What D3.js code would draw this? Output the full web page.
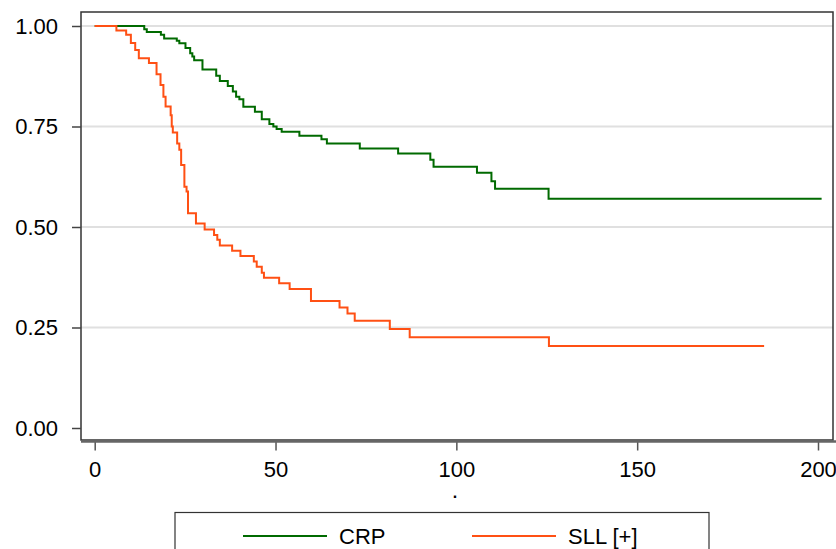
<!DOCTYPE html>
<html>
<head>
<meta charset="utf-8">
<script src="https://cdn.jsdelivr.net/npm/d3@7"></script>
<style>
  html, body { margin: 0; padding: 0; background: #fff; }
  svg { display: block; font-family: "Liberation Sans", Arial, sans-serif; }
</style>
</head>
<body>
<svg id="chart" width="836" height="549"></svg>
<script>
// ---- data ----
const crpTime = [0, 13.7, 14.4, 18.3, 19.2, 22.7, 23.4, 25.1, 26.4, 27.0, 27.5, 29.8, 33.6, 34.6, 36.8, 38.2, 39.1, 40.0, 41.1, 44.3, 46.2, 48.3, 49.4, 50.3, 51.7, 56.6, 62.7, 64.2, 73.3, 83.9, 92.8, 93.7, 105.7, 109.7, 110.7, 125.5, 201.0];
const crpSurv = [1.0, 0.992, 0.985, 0.978, 0.969, 0.963, 0.957, 0.945, 0.932, 0.924, 0.915, 0.892, 0.876, 0.863, 0.851, 0.837, 0.824, 0.818, 0.799, 0.787, 0.768, 0.756, 0.750, 0.744, 0.737, 0.727, 0.718, 0.708, 0.695, 0.683, 0.667, 0.650, 0.635, 0.614, 0.595, 0.570, 0.570];

const sllTime = [0, 6.0, 8.7, 10.0, 11.2, 12.2, 15.0, 17.1, 18.2, 19.0, 19.6, 21.0, 21.3, 21.6, 22.8, 23.4, 23.9, 24.8, 25.4, 25.8, 28.0, 30.4, 33.0, 33.9, 34.6, 38.0, 40.3, 44.0, 44.8, 46.2, 46.8, 51.0, 53.9, 59.8, 67.7, 69.9, 71.9, 81.6, 87.1, 125.6, 185.1];
const sllSurv = [1.0, 0.989, 0.978, 0.958, 0.940, 0.920, 0.908, 0.880, 0.853, 0.824, 0.800, 0.778, 0.750, 0.735, 0.708, 0.692, 0.654, 0.600, 0.588, 0.534, 0.509, 0.494, 0.480, 0.468, 0.454, 0.441, 0.428, 0.414, 0.401, 0.386, 0.374, 0.360, 0.346, 0.316, 0.300, 0.285, 0.267, 0.246, 0.226, 0.204, 0.204];

const yTicks = [0, 0.25, 0.5, 0.75, 1.0];
const xTicks = [0, 50, 100, 150, 200];
const seriesNames = ["CRP", "SLL [+]"];
const seriesColors = ["#006a00", "#ff5014"];
const xTitle = ".";

// ---- build ----
const svg = d3.select("#chart");
const frame = { left: 81, top: 12, right: 833, bottom: 440 };

const x = d3.scaleLinear().domain([0, 200]).range([94.7, 818]);
const y = d3.scaleLinear().domain([0, 1]).range([428, 26]);

// gridlines
svg.append("g").selectAll("line")
  .data(yTicks.filter(d => d > 0))
  .join("line")
  .attr("x1", frame.left).attr("x2", frame.right)
  .attr("y1", d => y(d)).attr("y2", d => y(d))
  .attr("stroke", "#e0e0e0").attr("stroke-width", 2);

// frame
svg.append("rect")
  .attr("x", frame.left).attr("y", frame.top)
  .attr("width", frame.right - frame.left).attr("height", frame.bottom - frame.top)
  .attr("fill", "none").attr("stroke", "#333").attr("stroke-width", 1.5);

// series
const series = [
  { name: seriesNames[0], color: seriesColors[0], pts: crpTime.map((t, i) => [t, crpSurv[i]]) },
  { name: seriesNames[1], color: seriesColors[1], pts: sllTime.map((t, i) => [t, sllSurv[i]]) }
];
const line = d3.line().x(d => x(d[0])).y(d => y(d[1])).curve(d3.curveStepAfter);
svg.append("g").selectAll("path")
  .data(series)
  .join("path")
  .attr("d", d => line(d.pts))
  .attr("fill", "none")
  .attr("stroke", d => d.color)
  .attr("stroke-width", 2);

// y axis
const yAxis = svg.append("g")
  .attr("transform", `translate(${frame.left},0)`)
  .call(d3.axisLeft(y).tickValues(yTicks).tickFormat(d3.format(".2f")).tickSize(9).tickPadding(14));
yAxis.select(".domain").remove();
yAxis.selectAll(".tick line").attr("stroke", "#444").attr("stroke-width", 1.5);
yAxis.selectAll(".tick text").attr("font-size", 22).attr("fill", "#000")
  .attr("font-family", "Liberation Sans, Arial, sans-serif");

// x axis
const xAxis = svg.append("g")
  .attr("transform", `translate(0,441.5)`)
  .call(d3.axisBottom(x).tickValues(xTicks).tickFormat(d3.format("d")).tickSize(9).tickPadding(11));
xAxis.select(".domain").remove();
xAxis.selectAll(".tick line").attr("stroke", "#555").attr("stroke-width", 1.5);
xAxis.selectAll(".tick text").attr("font-size", 22).attr("fill", "#000")
  .attr("font-family", "Liberation Sans, Arial, sans-serif");
svg.append("line")
  .attr("x1", frame.left).attr("x2", 836)
  .attr("y1", 441.5).attr("y2", 441.5)
  .attr("stroke", "#666").attr("stroke-width", 2.5);

// x title
svg.append("text")
  .attr("x", 455).attr("y", 498)
  .attr("text-anchor", "middle")
  .attr("font-size", 16)
  .attr("font-weight", "bold")
  .text(xTitle);

// legend
const lg = svg.append("g");
lg.append("rect")
  .attr("x", 175).attr("y", 512.5).attr("width", 534).attr("height", 60)
  .attr("fill", "#fff").attr("stroke", "#333").attr("stroke-width", 1.2);
const legX = [243, 472];
series.forEach((s, i) => {
  lg.append("line")
    .attr("x1", legX[i]).attr("x2", legX[i] + 84)
    .attr("y1", 536).attr("y2", 536)
    .attr("stroke", s.color).attr("stroke-width", 2);
  lg.append("text")
    .attr("x", legX[i] + 96).attr("y", 544)
    .attr("font-size", 22).attr("fill", "#000")
    .text(s.name);
});
</script>
</body>
</html>
